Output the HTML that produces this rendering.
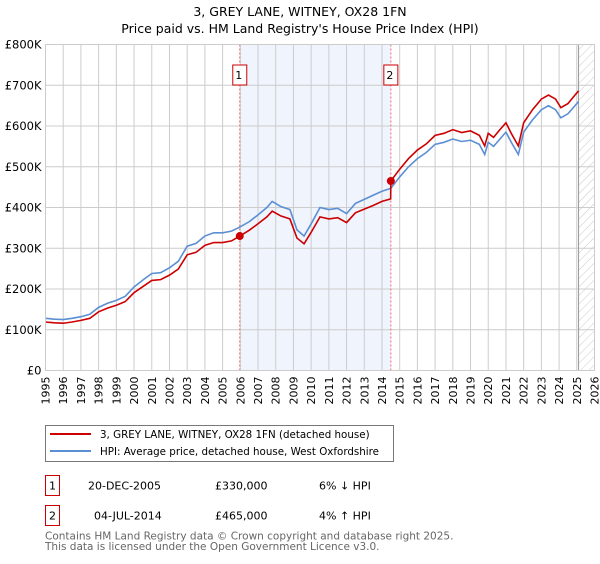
<!DOCTYPE html>
<html><head><meta charset="utf-8"><style>
body{margin:0;background:#fff;font-family:"DejaVu Sans","Liberation Sans",sans-serif;}
svg text{font-family:"DejaVu Sans","Liberation Sans",sans-serif;}
</style></head><body>
<svg id="chart" width="600" height="560" xmlns="http://www.w3.org/2000/svg">
<defs><pattern id="hatch" width="6" height="6" patternUnits="userSpaceOnUse" patternTransform="rotate(45)"><line x1="0" y1="0" x2="0" y2="6" stroke="#bbb" stroke-width="0.8"/></pattern></defs>
<text x="300" y="16" text-anchor="middle" font-size="12.5">3, GREY LANE, WITNEY, OX28 1FN</text>
<text x="300" y="33" text-anchor="middle" font-size="12.5">Price paid vs. HM Land Registry's House Price Index (HPI)</text>
<g id="grid"></g><g id="marks"></g><g id="axes"></g>
<rect x="45.5" y="425.5" width="348" height="36" fill="#fff" stroke="#777"/>
<line x1="50" y1="434" x2="91" y2="434" stroke="#cc0000" stroke-width="2"/>
<text x="100" y="438" font-size="10.3">3, GREY LANE, WITNEY, OX28 1FN (detached house)</text>
<line x1="50" y1="451" x2="91" y2="451" stroke="#5b8fd4" stroke-width="2"/>
<text x="100" y="455" font-size="10.3">HPI: Average price, detached house, West Oxfordshire</text>
<rect x="45.5" y="475.5" width="14" height="20" fill="#fff" stroke="#cc0000"/>
<text x="52.5" y="489.5" font-size="11" text-anchor="middle">1</text>
<text x="88" y="489.5" font-size="11">20-DEC-2005</text>
<text x="215" y="489.5" font-size="11">£330,000</text>
<text x="319" y="489.5" font-size="11">6% ↓ HPI</text>
<rect x="45.5" y="505.5" width="14" height="20" fill="#fff" stroke="#cc0000"/>
<text x="52.5" y="519.5" font-size="11" text-anchor="middle">2</text>
<text x="94" y="519.5" font-size="11">04-JUL-2014</text>
<text x="215" y="519.5" font-size="11">£465,000</text>
<text x="319" y="519.5" font-size="11">4% ↑ HPI</text>
<text x="45" y="539.5" font-size="10.5" fill="#666">Contains HM Land Registry data © Crown copyright and database right 2025.</text>
<text x="45" y="550" font-size="10.5" fill="#666">This data is licensed under the Open Government Licence v3.0.</text>
</svg>
<script>
const years=[1995,1995.5,1996,1996.5,1997,1997.5,1998,1998.5,1999,1999.5,2000,2000.5,2001,2001.5,2002,2002.5,2003,2003.5,2004,2004.5,2005,2005.5,2005.97,2006.5,2007,2007.5,2007.8,2008.3,2008.8,2009.2,2009.6,2010,2010.5,2011,2011.5,2012,2012.5,2013,2013.5,2014,2014.5,2015,2015.5,2016,2016.5,2017,2017.5,2018,2018.5,2019,2019.5,2019.8,2020,2020.3,2020.6,2021,2021.3,2021.7,2022,2022.5,2023,2023.4,2023.8,2024.1,2024.5,2024.9,2025.1];
const hpiValues=[128,126,125,128,132,138,155,165,172,182,205,222,238,240,252,268,305,312,330,338,338,342,352,365,382,400,415,402,395,345,330,360,400,395,398,385,410,420,430,440,447,475,500,520,535,555,560,568,562,565,555,530,560,550,565,585,560,530,585,615,640,650,640,620,630,650,660];
const redYears=[1995,1995.5,1996,1996.5,1997,1997.5,1998,1998.5,1999,1999.5,2000,2000.5,2001,2001.5,2002,2002.5,2003,2003.5,2004,2004.5,2005,2005.5,2005.97,2006.5,2007,2007.5,2007.8,2008.3,2008.8,2009.2,2009.6,2010,2010.5,2011,2011.5,2012,2012.5,2013,2013.5,2014,2014.49,2014.5,2015,2015.5,2016,2016.5,2017,2017.5,2018,2018.5,2019,2019.5,2019.8,2020,2020.3,2020.6,2021,2021.3,2021.7,2022,2022.5,2023,2023.4,2023.8,2024.1,2024.5,2024.9,2025.1];
const redValues=[119,117,116,119,123,128,144,153,160,169,191,206,221,223,234,249,284,290,307,314,314,318,330,344,360,377,391,379,372,325,311,339,377,372,375,363,387,396,405,415,421,465,494,520,541,556,577,582,591,584,588,577,551,582,572,588,608,582,551,608,640,666,676,666,645,655,676,686];
const saleYears=[2005.97,2014.5];
const salePrices=[330,465];
const saleLabels=["1","2"];
const yTicks=[0,100,200,300,400,500,600,700,800];
const yTickLabels=["£0","£100K","£200K","£300K","£400K","£500K","£600K","£700K","£800K"];
const xTicks=[1995,1996,1997,1998,1999,2000,2001,2002,2003,2004,2005,2006,2007,2008,2009,2010,2011,2012,2013,2014,2015,2016,2017,2018,2019,2020,2021,2022,2023,2024,2025,2026];
const L=45.5,R=594.5,T=44.5,B=370.5;
const xs=v=>L+(v-1995)/31*(R-L);
const ys=v=>B-v/800*(B-T);
const NS="http://www.w3.org/2000/svg";
function mk(tag,attrs,parent){const e=document.createElementNS(NS,tag);for(const k in attrs)e.setAttribute(k,attrs[k]);parent.appendChild(e);return e;}
const grid=document.getElementById('grid'),marks=document.getElementById('marks'),axes=document.getElementById('axes');
const sh=mk('rect',{x:xs(saleYears[0]),y:T,width:xs(saleYears[1])-xs(saleYears[0]),height:B-T,fill:'#f0f4fd'},grid);


const ht=mk('rect',{x:xs(2025.1),y:T,width:R-xs(2025.1),height:B-T,fill:'url(#hatch)'},grid);


xTicks.forEach(t=>{mk('line',{x1:xs(t),x2:xs(t),y1:T,y2:B,stroke:'#ccc'},grid);
const tx=mk('text',{x:0,y:0,'font-size':11,'text-anchor':'end',transform:`translate(${xs(t)+4},${B+6}) rotate(-90)`},axes);tx.textContent=t;

});
yTicks.forEach((t,i)=>{mk('line',{x1:L,x2:R,y1:ys(t),y2:ys(t),stroke:'#ccc'},grid);
const tx=mk('text',{x:L-4,y:ys(t)+4,'font-size':11.5,'text-anchor':'end'},axes);tx.textContent=yTickLabels[i];

});
mk('line',{x1:xs(2025.1),x2:xs(2025.1),y1:T,y2:B,stroke:'#999'},grid);
saleYears.forEach((s,i)=>{mk('line',{x1:xs(s),x2:xs(s),y1:T,y2:B,stroke:'#e66','stroke-dasharray':'2,2'},grid);
const bx=xs(s)-7;mk('rect',{x:bx,y:65,width:14,height:20,fill:'#fff',stroke:'#cc0000'},marks);
const tx=mk('text',{x:xs(s)-1,y:79,'font-size':11,'text-anchor':'middle'},marks);tx.textContent=saleLabels[i];

});
const hp=mk('polyline',{points:years.map((y,i)=>xs(y)+','+ys(hpiValues[i])).join(' '),fill:'none',stroke:'#5b8fd4','stroke-width':1.6},marks);


const rp=mk('polyline',{points:redYears.map((y,i)=>xs(y)+','+ys(redValues[i])).join(' '),fill:'none',stroke:'#cc0000','stroke-width':1.6},marks);


saleYears.forEach((s,i)=>{const c=mk('circle',{cx:xs(s),cy:ys(salePrices[i]),r:4,fill:'#cc0000'},marks);

});
mk('rect',{x:L,y:T,width:R-L,height:B-T,fill:'none',stroke:'#ccc'},axes);
</script>
</body></html>
